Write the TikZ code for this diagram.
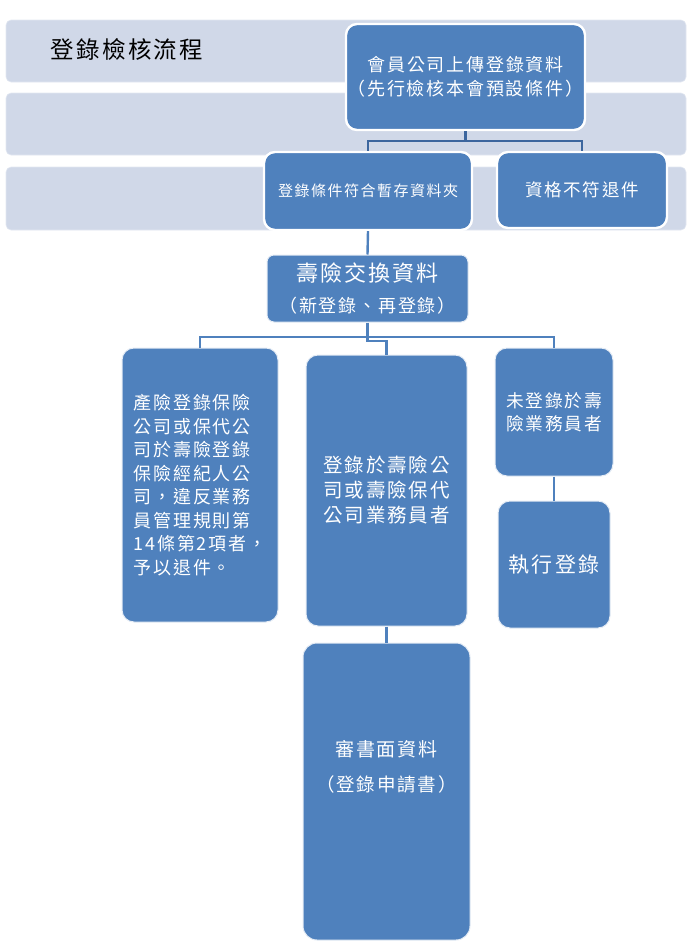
\documentclass[tikz,border=0pt]{standalone}
\usepackage{fontspec}
\newfontfamily\cjk[LetterSpace=10]{Noto Sans CJK TC}
\definecolor{band}{HTML}{D0D8E8}
\definecolor{boxfill}{HTML}{4F81BD}
\definecolor{darkline}{HTML}{3C669E}
\tikzset{
  bandbox/.style={fill=band, draw=band!60!white, line width=0.6pt, rounded corners=5pt},
  flowbox/.style={fill=boxfill, draw=white, line width=2.4pt, rounded corners=11pt, text=white, inner sep=0pt},
  lowbox/.style={fill=boxfill, draw=white!85!boxfill, line width=1pt, rounded corners=12pt, text=white, inner sep=0pt},
  topline/.style={draw=darkline, line width=2.6pt},
  subline/.style={draw=boxfill, line width=2.4pt},
}
\begin{document}
\begin{tikzpicture}[x=1pt,y=-1pt]
\useasboundingbox (0,0) rectangle (695,951);
% background bands
\path[bandbox] (6,20) rectangle (686,82);
\path[bandbox] (6,93) rectangle (686,155);
\path[bandbox] (6,167) rectangle (686,230);
\node[anchor=west, text=black, font={\cjk\fontsize{23.5}{26}\selectfont}] (title) at (47,50) {登錄檢核流程};
% nodes
\node[flowbox, minimum width=239pt, minimum height=106pt, align=center,
      font={\cjk\fontsize{18}{24}\selectfont}] (top) at (465.5,77)
      {會員公司上傳登錄資料\\（先行檢核本會預設條件）};
\node[flowbox, minimum width=208pt, minimum height=78pt,
      font={\cjk\fontsize{15}{18}\selectfont}] (A) at (368,191) {登錄條件符合暫存資料夾};
\node[flowbox, minimum width=170pt, minimum height=76pt,
      font={\cjk\fontsize{17.5}{20}\selectfont}] (B) at (582,190) {資格不符退件};
\node[lowbox, minimum width=201pt, minimum height=67pt, rounded corners=7pt, align=center] (C) at (367.5,288.5)
      {{\cjk\fontsize{22}{26}\selectfont 壽險交換資料}\\[12pt]{\cjk\fontsize{18}{20}\selectfont （新登錄、再登錄）}};
\node[lowbox, minimum width=156pt, minimum height=274pt, align=left,
      font={\cjk\fontsize{18}{23.5}\selectfont}] (D) at (200,485)
      {產險登錄保險\\公司或保代公\\司於壽險登錄\\保險經紀人公\\司，違反業務\\員管理規則第\\14條第2項者，\\予以退件。};
\node[lowbox, minimum width=161pt, minimum height=271pt, align=left,
      font={\cjk\fontsize{19.5}{25}\selectfont}] (E) at (386.5,490.5)
      {登錄於壽險公\\司或壽險保代\\公司業務員者};
\node[lowbox, minimum width=118pt, minimum height=128pt, align=center,
      font={\cjk\fontsize{17.7}{23}\selectfont}] (F) at (554,412)
      {未登錄於壽\\險業務員者};
\node[lowbox, minimum width=112pt, minimum height=127pt,
      font={\cjk\fontsize{21}{24}\selectfont}] (G) at (554,564.5) {執行登錄};
\node[lowbox, minimum width=167pt, minimum height=297pt, rounded corners=14pt] (H) at (386.5,791.5) {};
\node[text=white, align=center, inner sep=0pt] (Htxt) at (386.5,767)
      {{\cjk\fontsize{19}{22}\selectfont 審書面資料}\\[16pt]{\cjk\fontsize{18.5}{20}\selectfont （登錄申請書）}};
% connectors
\coordinate (j1) at (465.5,141);
\draw[topline] (top.south) -- (j1);
\draw[topline] (A.north) |- (j1) -| (B.north);
\draw[subline] (A.south) -- (C.north);
\coordinate (j2) at (367.5,337);
\coordinate (j3) at (367.5,341);
\draw[subline] (D.north) |- (j2) -| (F.north);
\draw[subline] (C.south) -- (j3) -| (E.north);
\draw[subline] (F.south) -- (G.north);
\draw[subline] (E.south) -- (H.north);
\end{tikzpicture}
\end{document}
